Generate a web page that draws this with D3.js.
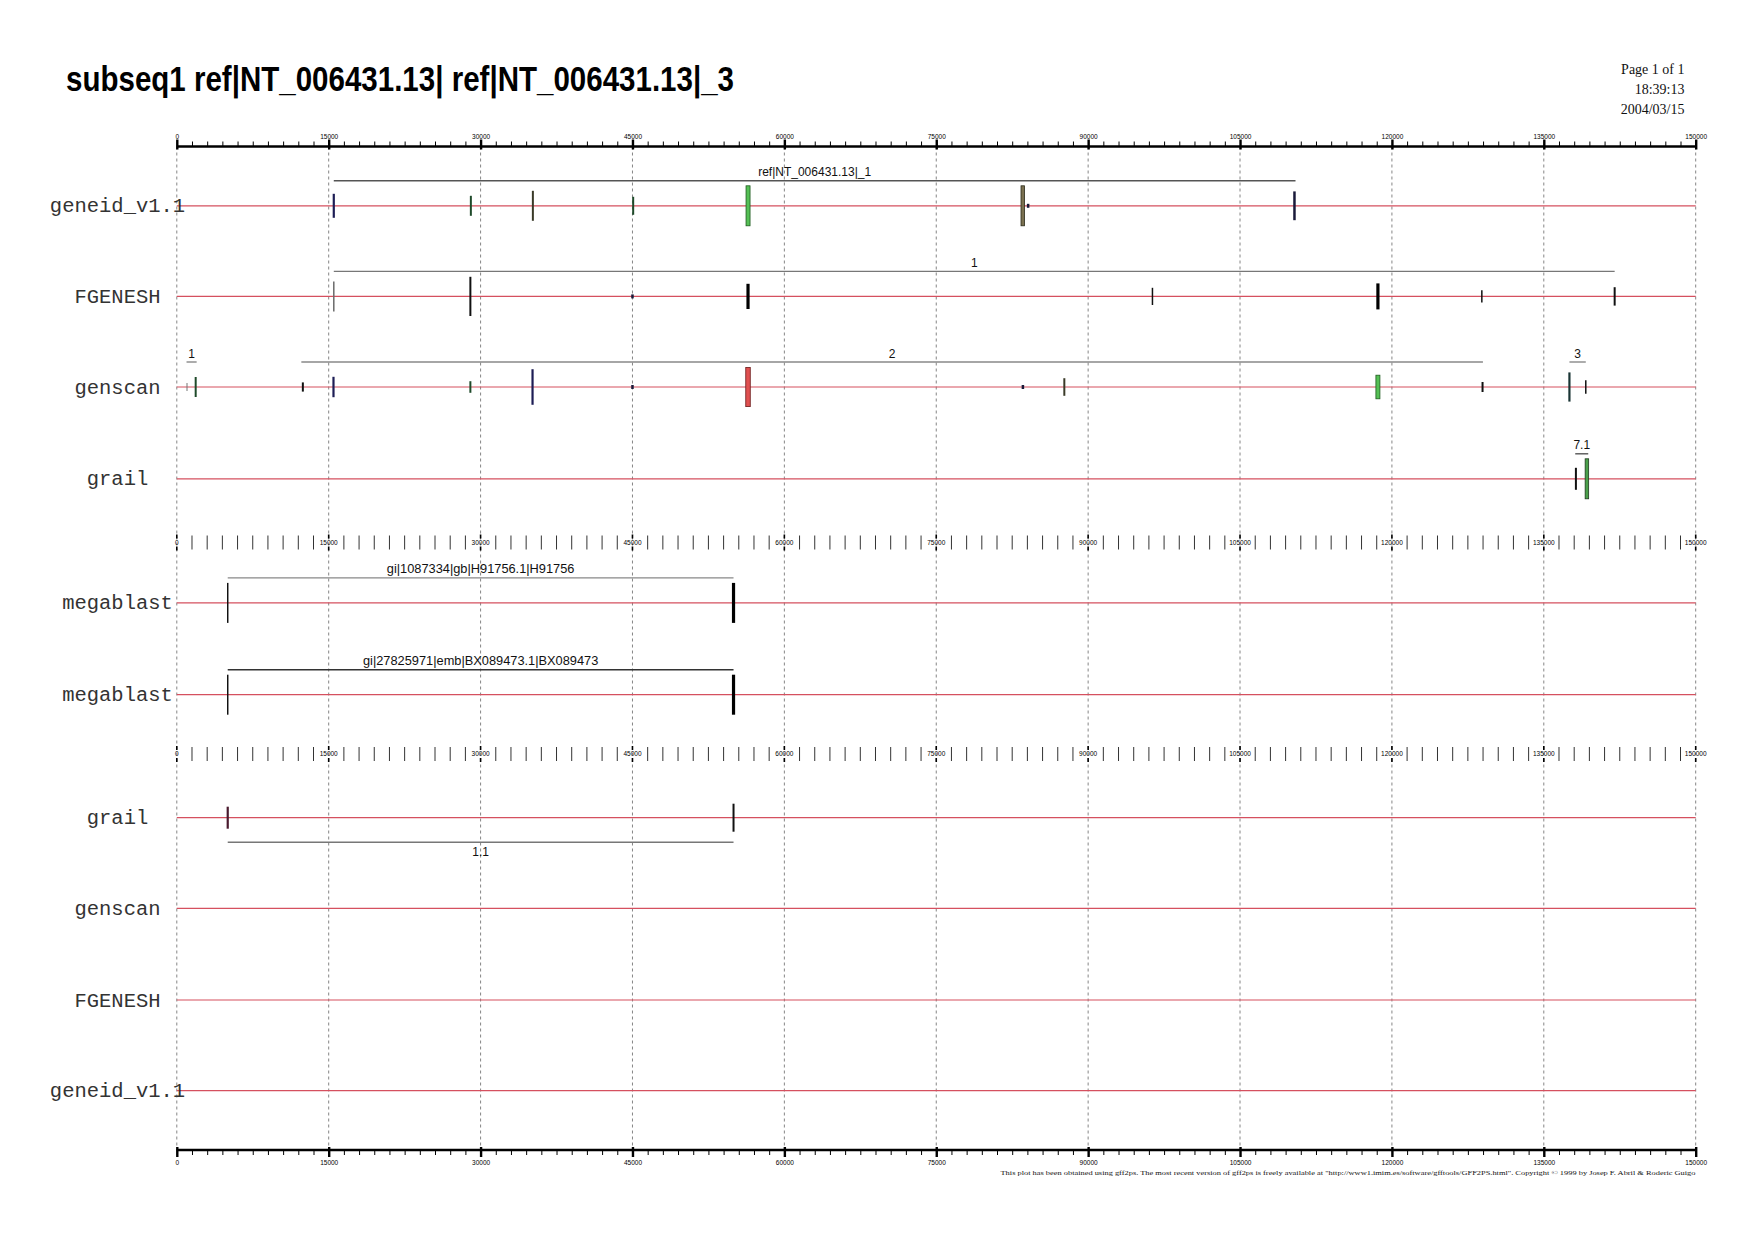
<!DOCTYPE html>
<html><head><meta charset="utf-8">
<script src="https://cdn.jsdelivr.net/npm/d3@7"></script>
<style>html,body{margin:0;padding:0;background:#fff}</style>
</head><body>
<svg id="c" width="1754" height="1240"></svg>
<script>
// ---------- data ----------
const titleText = "subseq1 ref|NT_006431.13| ref|NT_006431.13|_3";
const headerLines = ["Page 1 of 1", "18:39:13", "2004/03/15"];
const majorTicks = [0,15000,30000,45000,60000,75000,90000,105000,120000,135000,150000];
const tickLabels = ["0","15000","30000","45000","60000","75000","90000","105000","120000","135000","150000"];
const minorStep = 1500;
const trackNames = ["geneid_v1.1","FGENESH","genscan","grail","megablast","megablast","grail","genscan","FGENESH","geneid_v1.1"];

// features: position (bp), score, type
const geneidPos   = [15503, 29040, 35164, 45070, 56414, 83543, 84073, 110376];
const geneidScore = [60, 50, 75, 45, 100, 100, 10, 72];
const geneidType  = ["first","internal","internal2","internal","single","box2","tiny","terminal"];

const fgeneshPos   = [15504, 28992, 45000, 56411, 96351, 118617, 128880, 141997];
const fgeneshScore = [75, 98, 10, 63, 43, 65, 31, 46];
const fgeneshType  = ["gray","black","tiny","thick","thin","thick","thin","black"];

const genscanPos   = [1008, 1865, 12448, 15474, 28992, 35131, 45000, 56411, 83558, 87648, 118617, 128950, 137530, 139145];
const genscanScore = [20, 50, 23, 51, 29, 89, 10, 98, 10, 44, 59, 25, 73, 34];
const genscanType  = ["graythin","internal","black","first","internal","first","tiny","redbox","tiny","internal2","single","black","teal","thin"];

const grailTopPos   = [138170, 139256];
const grailTopScore = [55, 100];
const grailTopType  = ["black","greenthin"];

const mega1Pos = [5029, 54980];
const mega1Score = [100, 100];
const mega1Type = ["thin","thick"];
const mega2Pos = [5029, 54980];
const mega2Score = [100, 100];
const mega2Type = ["thin","thick"];

const grailLowPos = [5029, 54980];
const grailLowScore = [55, 70];
const grailLowType = ["maroon","black"];

// groups: start, end, label
const geneidGroups  = [[15503, 110480, "ref|NT_006431.13|_1"]];
const fgeneshGroups = [[15504, 141997, "1"]];
const genscanGroups = [[960, 1960, "1"], [12300, 128988, "2"], [137530, 139145, "3"]];
const grailTopGroups = [[138103, 139388, "7.1"]];
const mega1Groups = [[5029, 54980, "gi|1087334|gb|H91756.1|H91756"]];
const mega2Groups = [[5029, 54980, "gi|27825971|emb|BX089473.1|BX089473"]];
const grailLowGroups = [[5029, 54980, "1.1"]];

const footerText = "This plot has been obtained using gff2ps. The most recent version of gff2ps is freely available at \"http://www1.imim.es/software/gfftools/GFF2PS.html\". Copyright \u00A9  1999 by Josep F. Abril & Roderic Guigo";

// ---------- styles ----------
const typeStyle = {
  first:     {color:"#1d1d55", w:2.2, box:false},
  internal:  {color:"#1f4a2a", w:2,   box:false},
  internal2: {color:"#3a3a28", w:2,   box:false},
  terminal:  {color:"#1a1a3a", w:2.5, box:false},
  single:    {color:"#55c055", w:4,   box:true, stroke:"#1e5a1e"},
  box2:      {color:"#7a7050", w:3.5, box:true, stroke:"#2a2a1a"},
  redbox:    {color:"#e05050", w:4.5, box:true, stroke:"#6a1a1a"},
  greenthin: {color:"#4aa04a", w:3.5, box:true, stroke:"#1e3a1e"},
  tiny:      {color:"#1a1a3a", w:2.5, box:false},
  gray:      {color:"#6a6a6a", w:1.5, box:false},
  graythin:  {color:"#777",    w:1,   box:false},
  black:     {color:"#111",    w:2,   box:false},
  thick:     {color:"#000",    w:3.2, box:false},
  thin:      {color:"#111",    w:1.5, box:false},
  teal:      {color:"#1a3535", w:2.2, box:false},
  maroon:    {color:"#4a1a2e", w:2.2, box:false}
};

// ---------- layout ----------
const svg = d3.select("#c");
const x = d3.scaleLinear().domain([0,150000]).range([176.8, 1695.7]);
const s = d3.scaleLinear().domain([0,100]).range([0,20]);
const trackY = [205.8, 296.4, 387.0, 478.8, 602.9, 694.7, 817.7, 908.3, 1000, 1090.6];
const topAxisY = 146.5, midAxis1Y = 542.5, midAxis2Y = 754, botAxisY = 1150;
const minorTicks = d3.range(0, 150000 + 1, minorStep);

// title
svg.append("text").attr("x", 66).attr("y", 90.5)
  .attr("font-family","Liberation Sans, Arial, sans-serif").attr("font-weight","bold")
  .attr("font-size", 35).attr("textLength", 668).attr("lengthAdjust","spacingAndGlyphs")
  .attr("fill","#000").text(titleText);

// header
svg.selectAll("text.hdr").data(headerLines).enter().append("text")
  .attr("class","hdr").attr("x",1684.5).attr("y",(d,i)=>74+i*20)
  .attr("text-anchor","end").attr("font-family","Liberation Serif, Times New Roman, serif")
  .attr("font-size",14).attr("fill","#111").text(d=>d);

// grid
svg.append("g").selectAll("line").data(majorTicks).enter().append("line")
  .attr("x1",d=>x(d)).attr("x2",d=>x(d)).attr("y1",topAxisY).attr("y2",botAxisY)
  .attr("stroke","#777").attr("stroke-width",0.9).attr("stroke-dasharray","3,3");

// top / bottom axes
function rulerAxis(y, dir){
  const g = svg.append("g");
  const minorAx = (dir<0 ? d3.axisTop(x) : d3.axisBottom(x)).tickValues(minorTicks).tickSize(5).tickFormat("");
  const gm = g.append("g").attr("transform",`translate(0,${y})`).call(minorAx);
  gm.select(".domain").remove();
  gm.selectAll(".tick line").attr("stroke","#000").attr("stroke-width",1);
  g.append("line").attr("x1",x(0)).attr("x2",x(150000)).attr("y1",y).attr("y2",y)
    .attr("stroke","#000").attr("stroke-width",2.6);
  const majorAx = (dir<0 ? d3.axisTop(x) : d3.axisBottom(x)).tickValues(majorTicks)
    .tickSize(7).tickPadding(dir<0 ? 1 : 3).tickFormat((d,i)=>tickLabels[i]);
  const gM = g.append("g").attr("transform",`translate(0,${y})`).call(majorAx);
  gM.select(".domain").remove();
  gM.selectAll(".tick line").attr("stroke","#000").attr("stroke-width",2.4)
    .attr("y1", dir<0 ? 3 : -3);
  gM.selectAll(".tick text").attr("font-family","Liberation Sans, Arial, sans-serif")
    .attr("font-size",6.5).attr("fill","#000");
}
rulerAxis(topAxisY, -1);
rulerAxis(botAxisY, 1);

// middle axes
function midAxis(y){
  const g = svg.append("g");
  g.selectAll("line.mn").data(minorTicks.filter(d=>d%15000!==0)).enter().append("line")
    .attr("x1",d=>x(d)).attr("x2",d=>x(d)).attr("y1",y-7).attr("y2",y+7)
    .attr("stroke","#333").attr("stroke-width",1);
  const mj = g.selectAll("g.mj").data(majorTicks).enter().append("g")
    .attr("transform",d=>`translate(${x(d)},${y})`);
  mj.append("line").attr("y1",-8).attr("y2",-4).attr("stroke","#000").attr("stroke-width",1.6);
  mj.append("line").attr("y1",4).attr("y2",8).attr("stroke","#000").attr("stroke-width",1.6);
  mj.append("text").attr("y",2.3).attr("text-anchor","middle")
    .attr("font-family","Liberation Sans, Arial, sans-serif").attr("font-size",6.5)
    .attr("fill","#000").text((d,i)=>tickLabels[i]);
}
midAxis(midAxis1Y);
midAxis(midAxis2Y);

// track lines and labels
svg.append("g").selectAll("line").data(trackY).enter().append("line")
  .attr("x1",x(0)).attr("x2",x(150000)).attr("y1",d=>d).attr("y2",d=>d)
  .attr("stroke","#d5505f").attr("stroke-width",1.2);
svg.append("g").selectAll("text").data(trackNames).enter().append("text")
  .attr("x",117.5).attr("y",(d,i)=>trackY[i]).attr("dy","0.32em")
  .attr("text-anchor","middle").attr("font-family","Liberation Mono, Courier New, monospace")
  .attr("font-size",20.5).attr("fill","#333").text(d=>d);

// groups
function drawGroups(groups, ty, above, color, fs){
  const g = svg.append("g");
  const off = above ? -25 : 24.5;
  groups.forEach(gr=>{
    g.append("line").attr("x1",x(gr[0])).attr("x2",x(gr[1])).attr("y1",ty+off).attr("y2",ty+off)
      .attr("stroke",color).attr("stroke-width",1.4);
    g.append("text").attr("x",(x(gr[0])+x(gr[1]))/2).attr("y", above ? ty+off-4.5 : ty+off+14)
      .attr("text-anchor","middle").attr("font-family","Liberation Sans, Arial, sans-serif")
      .attr("font-size",fs).attr("fill","#111").text(gr[2]);
  });
}
drawGroups(geneidGroups, trackY[0], true, "#555", 12);
drawGroups(fgeneshGroups, trackY[1], true, "#777", 12);
drawGroups(genscanGroups, trackY[2], true, "#888", 12);
drawGroups(grailTopGroups, trackY[3], true, "#555", 12);
drawGroups(mega1Groups, trackY[4], true, "#888", 12.8);
drawGroups(mega2Groups, trackY[5], true, "#333", 12.8);
drawGroups(grailLowGroups, trackY[6], false, "#777", 12);

// features
function drawFeatures(pos, score, type, ty){
  const g = svg.append("g");
  pos.forEach((p,i)=>{
    const st = typeStyle[type[i]];
    const h = Math.max(2, s(score[i]));
    if(st.box){
      g.append("rect").attr("x",x(p)-st.w/2).attr("width",st.w)
        .attr("y",ty-h).attr("height",2*h)
        .attr("fill",st.color).attr("stroke",st.stroke).attr("stroke-width",0.8);
    } else {
      g.append("line").attr("x1",x(p)).attr("x2",x(p)).attr("y1",ty-h).attr("y2",ty+h)
        .attr("stroke",st.color).attr("stroke-width",st.w);
    }
  });
}
drawFeatures(geneidPos, geneidScore, geneidType, trackY[0]);
drawFeatures(fgeneshPos, fgeneshScore, fgeneshType, trackY[1]);
drawFeatures(genscanPos, genscanScore, genscanType, trackY[2]);
drawFeatures(grailTopPos, grailTopScore, grailTopType, trackY[3]);
drawFeatures(mega1Pos, mega1Score, mega1Type, trackY[4]);
drawFeatures(mega2Pos, mega2Score, mega2Type, trackY[5]);
drawFeatures(grailLowPos, grailLowScore, grailLowType, trackY[6]);

// footer
svg.append("text").attr("x",1695.5).attr("y",1175).attr("text-anchor","end")
  .attr("font-family","Liberation Serif, Times New Roman, serif").attr("font-size",6.6)
  .attr("textLength",695).attr("lengthAdjust","spacingAndGlyphs")
  .attr("fill","#111").text(footerText);
</script>
</body></html>
